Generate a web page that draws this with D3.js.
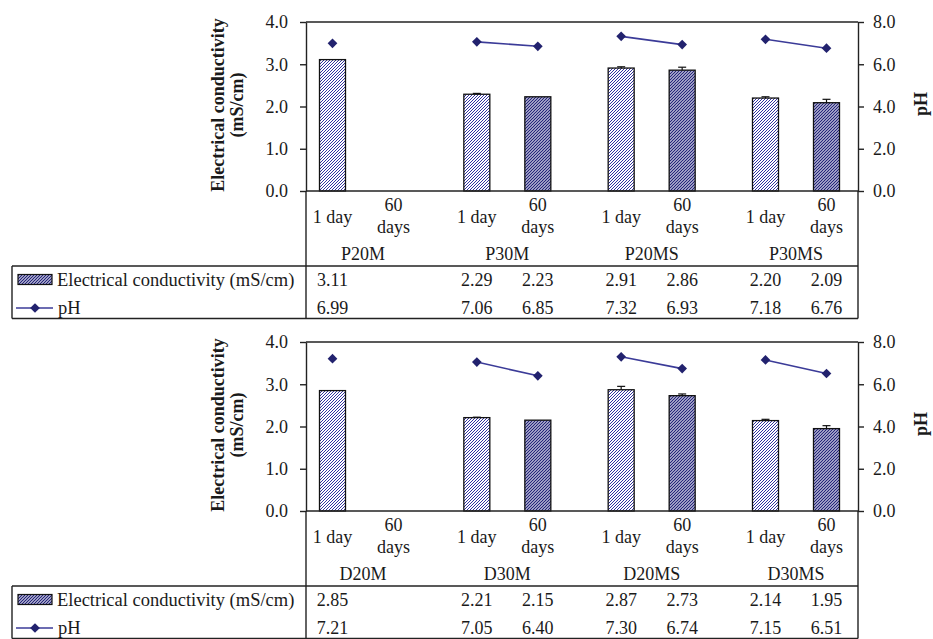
<!DOCTYPE html>
<html>
<head>
<meta charset="utf-8">
<script src="https://cdn.jsdelivr.net/npm/d3@7"></script>
<style>
  html, body { margin: 0; padding: 0; background: #fff; }
  svg { display: block; }
  svg text { font-family: "Liberation Serif", "Times New Roman", serif; }
</style>
</head>
<body>
<svg id="chart" width="933" height="639"></svg>
<script>
// Treatment groups and sampling times
const groupsTop = ["P20M", "P30M", "P20MS", "P30MS"];
const groupsBottom = ["D20M", "D30M", "D20MS", "D30MS"];
const days = ["1 day", "60 days"];

// Electrical conductivity (mS/cm), pH and EC error, ordered group by group, 1 day then 60 days
const ecTop = [3.11, null, 2.29, 2.23, 2.91, 2.86, 2.20, 2.09];
const ecErrTop = [0, null, 0.02, 0, 0.03, 0.07, 0.03, 0.08];
const phTop = [6.99, null, 7.06, 6.85, 7.32, 6.93, 7.18, 6.76];

const ecBottom = [2.85, null, 2.21, 2.15, 2.87, 2.73, 2.14, 1.95];
const ecErrBottom = [0, null, 0.01, 0, 0.08, 0.04, 0.03, 0.07];
const phBottom = [7.21, null, 7.05, 6.40, 7.30, 6.74, 7.15, 6.51];

// Axis ticks
const ecTicks = [0, 1, 2, 3, 4];
const phTicks = [0, 2, 4, 6, 8];

const svg = d3.select("#chart");
const fmt1 = d3.format(".1f");
const fmt2 = d3.format(".2f");
const serif = "Liberation Serif, Times New Roman, serif";

// Hatch fills: light for 1 day, dense for 60 days
const defs = svg.append("defs");
function hatch(id, w, color) {
  const p = defs.append("pattern").attr("id", id)
    .attr("patternUnits", "userSpaceOnUse").attr("width", 3).attr("height", 3);
  p.append("rect").attr("width", 3).attr("height", 3).attr("fill", "#fff");
  p.append("path").attr("d", "M-0.75,0.75 l1.5,-1.5 M0,3 l3,-3 M2.25,3.75 l1.5,-1.5")
    .attr("stroke", color).attr("stroke-width", w);
}
hatch("hLight", 1.0, "#3232a2");
hatch("hDark", 1.3, "#24247a");
const fillFor = d => d === "1 day" ? "url(#hLight)" : "url(#hDark)";

const plot = { left: 306, right: 858, top: 22, bottom: 191 };
const table = { left: 12, split: 266, bottom: 318.5 };
const lineColor = "#3b3b98";
const markColor = "#22226e";
const textColor = "#1a1a1a";

function panel(offsetY, groups, ec, ecErr, ph) {
  const g = svg.append("g").attr("transform", `translate(0,${offsetY})`)
    .attr("font-family", serif);

  const yEC = d3.scaleLinear().domain([0, 4]).range([plot.bottom, plot.top]);
  const yPH = d3.scaleLinear().domain([0, 8]).range([plot.bottom, plot.top]);
  const xGroup = d3.scalePoint().domain(groups).range([363, 796]);
  const xDay = d3.scalePoint().domain(days).range([-30.5, 30.5]);

  const rows = [];
  groups.forEach((grp, gi) => days.forEach((d, di) => {
    const i = gi * 2 + di;
    rows.push({ group: grp, day: d, ec: ec[i], err: ecErr[i], ph: ph[i],
                x: xGroup(grp) + xDay(d) });
  }));

  // Frame top line
  g.append("line").attr("x1", plot.left).attr("x2", plot.right)
    .attr("y1", plot.top).attr("y2", plot.top)
    .attr("stroke", "#222").attr("stroke-width", 1.4);

  // Left axis
  const axL = g.append("g").attr("transform", `translate(${plot.left},0)`)
    .call(d3.axisLeft(yEC).tickValues(ecTicks).tickFormat(fmt1)
      .tickSize(6).tickSizeOuter(0).tickPadding(12));
  // Right axis
  const axR = g.append("g").attr("transform", `translate(${plot.right},0)`)
    .call(d3.axisRight(yPH).tickValues(phTicks).tickFormat(fmt1)
      .tickSize(6).tickSizeOuter(0).tickPadding(9));
  [axL, axR].forEach(a => {
    a.attr("font-family", serif).attr("font-size", 18);
    a.selectAll("path, line").attr("stroke", "#222").attr("stroke-width", 1.4);
    a.selectAll("text").attr("fill", textColor);
  });

  // Bars
  const bars = rows.filter(r => r.ec != null);
  const bw = 26;
  g.selectAll("rect.bar").data(bars).join("rect").attr("class", "bar")
    .attr("x", r => r.x - bw / 2).attr("width", bw)
    .attr("y", r => yEC(r.ec)).attr("height", r => yEC(0) - yEC(r.ec))
    .attr("fill", r => fillFor(r.day))
    .attr("stroke", "#111").attr("stroke-width", 1.3);

  // Error bars
  const errs = bars.filter(r => r.err > 0);
  g.selectAll("line.err").data(errs).join("line").attr("class", "err")
    .attr("x1", r => r.x).attr("x2", r => r.x)
    .attr("y1", r => yEC(r.ec)).attr("y2", r => yEC(r.ec + r.err))
    .attr("stroke", "#111").attr("stroke-width", 1.2);
  g.selectAll("line.cap").data(errs).join("line").attr("class", "cap")
    .attr("x1", r => r.x - 4).attr("x2", r => r.x + 4)
    .attr("y1", r => yEC(r.ec + r.err)).attr("y2", r => yEC(r.ec + r.err))
    .attr("stroke", "#111").attr("stroke-width", 1.2);

  // x axis baseline
  g.append("line").attr("x1", plot.left).attr("x2", plot.right)
    .attr("y1", plot.bottom).attr("y2", plot.bottom)
    .attr("stroke", "#222").attr("stroke-width", 1.4);

  // pH lines within each group
  const line = d3.line().x(r => r.x).y(r => yPH(r.ph));
  groups.forEach(grp => {
    const pts = rows.filter(r => r.group === grp && r.ph != null);
    if (pts.length > 1) {
      g.append("path").attr("d", line(pts)).attr("fill", "none")
        .attr("stroke", lineColor).attr("stroke-width", 1.6);
    }
  });
  const diamond = d3.symbol().type(d3.symbolDiamond2).size(60);
  g.selectAll("path.pt").data(rows.filter(r => r.ph != null)).join("path")
    .attr("class", "pt")
    .attr("d", diamond)
    .attr("transform", r => `translate(${r.x},${yPH(r.ph)})`)
    .attr("fill", markColor);

  // Axis titles
  const title = (x, y, s) => g.append("text")
    .attr("transform", `translate(${x},${y}) rotate(-90)`)
    .attr("text-anchor", "middle").attr("font-size", 18).attr("font-weight", "bold")
    .attr("fill", textColor).text(s);
  title(224, 105, "Electrical conductivity");
  title(243, 105, "(mS/cm)");
  title(927, 104, "pH");

  // Data table grid
  const grid = [
    [plot.left, plot.bottom, plot.left, table.bottom],
    [plot.right, plot.bottom, plot.right, table.bottom],
    [table.left, table.split, plot.right, table.split],
    [table.left, table.split, table.left, table.bottom],
    [table.left, table.bottom, plot.right, table.bottom]
  ];
  g.selectAll("line.grid").data(grid).join("line").attr("class", "grid")
    .attr("x1", d => d[0]).attr("y1", d => d[1]).attr("x2", d => d[2]).attr("y2", d => d[3])
    .attr("stroke", "#222").attr("stroke-width", 1.4);

  const txt = (x, y, s) => g.append("text").attr("x", x).attr("y", y)
    .attr("text-anchor", "middle").attr("font-size", 18).attr("fill", textColor).text(s);

  // Category labels
  rows.forEach(r => {
    if (r.day === "1 day") {
      txt(r.x, 223, "1 day");
    } else {
      txt(r.x, 211, "60");
      txt(r.x, 233, "days");
    }
  });
  groups.forEach(grp => txt(xGroup(grp), 260, grp));

  // Table values
  rows.forEach(r => {
    if (r.ec != null) txt(r.x, 286, fmt2(r.ec));
    if (r.ph != null) txt(r.x, 314, fmt2(r.ph));
  });

  // Legend keys
  g.append("rect").attr("x", 18).attr("y", 274.5).attr("width", 34).attr("height", 10)
    .attr("fill", "url(#hDark)").attr("stroke", "#111").attr("stroke-width", 1.2);
  g.append("text").attr("x", 57).attr("y", 286).attr("font-size", 18.5)
    .attr("fill", textColor).text("Electrical conductivity (mS/cm)");
  g.append("line").attr("x1", 16).attr("x2", 53).attr("y1", 308).attr("y2", 308)
    .attr("stroke", lineColor).attr("stroke-width", 1.6);
  g.append("path").attr("d", diamond).attr("transform", "translate(35,308)")
    .attr("fill", markColor);
  g.append("text").attr("x", 58).attr("y", 314).attr("font-size", 18.5)
    .attr("fill", textColor).text("pH");
}

panel(0, groupsTop, ecTop, ecErrTop, phTop);
panel(320, groupsBottom, ecBottom, ecErrBottom, phBottom);
</script>
</body>
</html>
